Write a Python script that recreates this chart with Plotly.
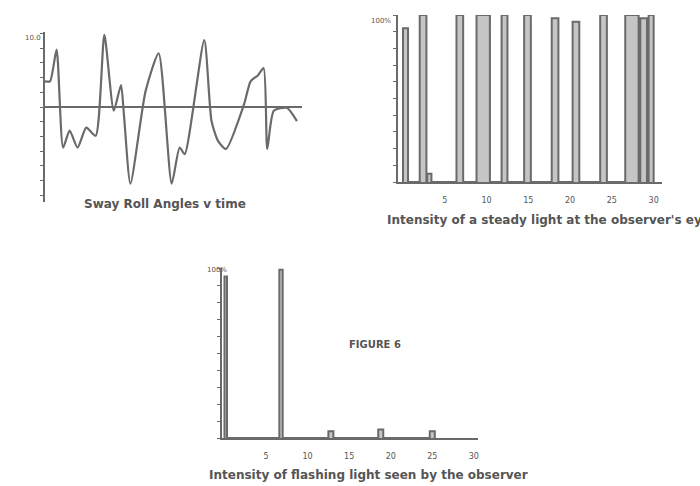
import plotly.graph_objects as go

W, H = 700, 486

# ---- Top-left: roll angle vs time ----
roll_t = [0.0, 0.7, 1.6, 2.5, 3.4, 4.5, 5.7, 7.0, 8.2, 9.5, 10.5, 10.9, 11.8, 13.9, 15.7,
          17.5, 18.6, 19.3, 22.0, 23.0, 23.9, 25.0, 27.5, 28.4, 29.4, 30.2, 30.7, 31.6, 33.4, 34.8]
roll_v = [3.5, 3.5, 7.8, -5.5, -3.2, -5.5, -2.8, -3.9, 9.8, -0.5, 3.0, -1.0, -10.4, 2.2, 7.3,
          -10.4, -5.5, -6.4, 9.1, -1.9, -4.6, -5.7, 0.4, 3.5, 4.3, 5.3, -5.7, -0.5, -0.1, -1.9]

# ---- Top-right: steady light pulses (start, end, height %) ----
steady_start = [0.0, 2.0, 2.9, 6.4, 8.8, 11.8, 14.5, 17.8, 20.3, 23.6, 26.6, 28.4, 29.4]
steady_end   = [0.6, 2.8, 3.4, 7.2, 10.4, 12.5, 15.3, 18.6, 21.1, 24.4, 28.2, 29.2, 30.0]
steady_h     = [92, 100, 5, 100, 100, 100, 100, 98, 96, 100, 100, 98, 100]
steady_ticks = [5, 10, 15, 20, 25, 30]

# ---- Bottom: flashing light seen ----
flash_start = [0.0, 6.6, 12.5, 18.5, 24.7]
flash_end   = [0.3, 7.0, 13.1, 19.1, 25.3]
flash_h     = [95, 99, 4, 5, 4]
flash_ticks = [5, 10, 15, 20, 25, 30]


def pulses(starts, ends, heights):
    xs, ys = [], []
    for s, e, h in zip(starts, ends, heights):
        xs += [s, s, e, e]
        ys += [0, h, h, 0]
    return xs, ys


LC = "#6a6a6a"
FILL = "rgba(150,150,150,0.55)"
fig = go.Figure()

fig.add_trace(go.Scatter(x=roll_t, y=roll_v, mode="lines",
                         line=dict(color=LC, width=2.2, shape="spline", smoothing=0.6),
                         xaxis="x", yaxis="y", showlegend=False))

sx, sy = pulses(steady_start, steady_end, steady_h)
fig.add_trace(go.Scatter(x=sx, y=sy, mode="lines", line=dict(color=LC, width=2),
                         fill="tozeroy", fillcolor=FILL,
                         xaxis="x2", yaxis="y2", showlegend=False))

fx, fy = pulses(flash_start, flash_end, flash_h)
fig.add_trace(go.Scatter(x=fx, y=fy, mode="lines", line=dict(color=LC, width=2),
                         fill="tozeroy", fillcolor=FILL,
                         xaxis="x3", yaxis="y3", showlegend=False))


def dom(a, b, total):
    return [a / total, b / total]


def ydom(top, bottom):
    return [1 - bottom / H, 1 - top / H]


axfont = dict(family="DejaVu Sans", size=8, color="#555")

fig.update_layout(
    width=W, height=H, margin=dict(l=0, r=0, t=0, b=0),
    paper_bgcolor="white", plot_bgcolor="white",
    xaxis=dict(domain=dom(45, 302, W), range=[0, 35.5], showgrid=False, showline=False,
               zeroline=False, showticklabels=False, ticks=""),
    yaxis=dict(domain=ydom(32, 202), range=[-12.9, 10.2], showgrid=False, showline=True,
               linecolor=LC, linewidth=2, zeroline=True, zerolinecolor=LC, zerolinewidth=2,
               ticks="outside", ticklen=3, tickcolor=LC, dtick=2, showticklabels=False),
    xaxis2=dict(domain=dom(398, 662, W), range=[-0.6, 31], showgrid=False, showline=True,
                linecolor=LC, linewidth=2, zeroline=False, tickvals=steady_ticks,
                ticks="", tickfont=axfont, ticklabelstandoff=9, anchor="y2"),
    yaxis2=dict(domain=ydom(15, 182), range=[0, 100], showgrid=False, showline=True,
                linecolor=LC, linewidth=2, zeroline=False, ticks="outside", ticklen=3,
                tickcolor=LC, dtick=10, showticklabels=False, anchor="x2"),
    xaxis3=dict(domain=dom(222, 478, W), range=[-0.3, 30.5], showgrid=False, showline=True,
                linecolor=LC, linewidth=2, zeroline=False, tickvals=flash_ticks,
                ticks="", tickfont=axfont, ticklabelstandoff=9, anchor="y3"),
    yaxis3=dict(domain=ydom(268, 438), range=[0, 100], showgrid=False, showline=True,
                linecolor=LC, linewidth=2, zeroline=False, ticks="outside", ticklen=3,
                tickcolor=LC, dtick=10, showticklabels=False, anchor="x3"),
)

capfont = dict(family="DejaVu Sans", size=12, color="#555")
small = dict(family="DejaVu Sans", size=7, color="#555")
ann = [
    dict(text="<b>Sway Roll Angles v time</b>", x=165 / W, y=1 - 204 / H, xref="paper",
         yref="paper", showarrow=False, font=capfont, xanchor="center", yanchor="middle"),
    dict(text="<b>Intensity of a steady light at the observer's eye</b>", x=385 / W,
         y=1 - 220 / H, xref="paper", yref="paper", showarrow=False, font=capfont,
         xanchor="left", yanchor="middle"),
    dict(text="<b>Intensity of flashing light seen by the observer</b>", x=207 / W,
         y=1 - 475 / H, xref="paper", yref="paper", showarrow=False, font=capfont,
         xanchor="left", yanchor="middle"),
    dict(text="<b>FIGURE 6</b>", x=375 / W, y=1 - 352 / H, xref="paper", yref="paper",
         showarrow=False, font=dict(family="DejaVu Sans", size=10, color="#555")),
    dict(text="10.0", x=23 / W, y=1 - 32 / H, xref="paper", yref="paper", showarrow=False,
         font=small),
    dict(text="100%", x=381 / W, y=1 - 15 / H, xref="paper", yref="paper", showarrow=False,
         font=small),
    dict(text="100%", x=205 / W, y=1 - 270 / H, xref="paper", yref="paper", showarrow=False,
         font=small),
]
fig.update_layout(annotations=ann)

fig.write_html("out.html")
